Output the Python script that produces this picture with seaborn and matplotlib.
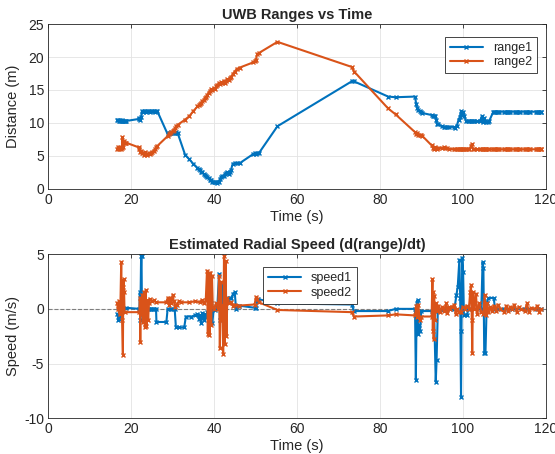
import numpy as np
import pandas as pd
import matplotlib
matplotlib.use("Agg")
import matplotlib.pyplot as plt
import seaborn as sns

# Ranges (time in s, distance in m)
t_range = [16.6, 16.8, 17.0, 17.2, 17.4, 17.6, 17.8, 17.9, 18.0, 18.2, 18.4, 18.6, 18.8,
           21.8, 22.0, 22.2, 22.4, 22.6, 22.8, 23.0, 23.3, 23.6, 23.9, 24.2, 24.5, 24.8, 25.1, 25.4, 25.7, 26.0, 26.3,
           28.8, 29.1, 29.4, 29.7, 30.0, 30.3, 30.6, 30.9, 31.2, 33.0, 34.0, 35.0,
           36.0, 36.3, 36.6, 36.9, 37.2, 37.5, 37.8, 38.1, 38.4, 38.7, 39.0, 39.3, 39.6, 39.9, 40.2, 40.5,
           40.8, 41.1, 41.4, 41.7, 42.0, 42.3, 42.6, 42.9, 43.2, 43.5, 43.8, 44.1, 44.5, 45.0, 45.5, 46.2,
           49.5, 49.8, 50.1, 50.4, 50.8, 55.3, 73.2, 73.8, 82.0, 83.8,
           88.5, 88.8, 89.0, 89.3, 89.6, 90.0, 90.3, 92.5, 92.8, 93.1, 93.4, 93.6, 93.8, 94.1,
           95.0, 95.4, 95.8, 96.2, 96.6, 97.8, 98.2, 98.6, 99.0, 99.3, 99.6, 99.8, 100.1, 100.4,
           100.8, 101.2, 101.6, 102.0, 102.2, 102.4, 102.8, 103.4, 104.2, 104.6, 104.8, 105.1, 105.4,
           105.7, 106.0, 106.4, 107.4, 107.6, 107.9, 108.2, 108.5, 108.8, 110.0, 110.3, 110.6, 110.9,
           111.2, 111.5, 112.6, 112.9, 113.2, 113.5, 113.8, 115.0, 115.3, 115.6, 115.9, 116.2,
           117.6, 117.9, 118.2, 118.5, 118.8, 119.0]
range1 = [10.5, 10.4, 10.3, 10.4, 10.3, 10.3, 10.4, 10.3, 10.3, 10.3, 10.3, 10.3, 10.3,
          10.6, 10.8, 10.5, 10.9, 11.8, 11.7, 11.8, 11.8, 11.7, 11.8, 11.8, 11.7, 11.8, 11.8, 11.8, 11.7, 11.8, 11.8,
          8.3, 8.5, 8.4, 8.6, 8.5, 8.4, 8.5, 8.6, 8.5, 5.2, 4.5, 3.8,
          3.2, 3.0, 2.8, 2.6, 2.5, 2.3, 2.1, 2.0, 1.8, 1.6, 1.4, 1.3, 1.1, 1.0, 1.0, 1.1,
          0.9, 1.0, 1.5, 1.8, 1.9, 2.0, 2.2, 2.4, 2.5, 2.3, 2.6, 2.9, 3.8, 3.9, 3.9, 3.9,
          5.3, 5.4, 5.3, 5.4, 5.4, 9.5, 16.3, 16.3, 14.0, 13.9,
          14.0, 12.8, 12.3, 12.0, 11.8, 11.6, 11.5, 11.2, 11.1, 11.0, 11.1, 10.4, 9.8, 9.8,
          9.5, 9.4, 9.4, 9.4, 9.4, 9.4, 9.3, 9.6, 10.5, 10.9, 11.8, 11.2, 11.6, 11.0,
          10.3, 10.3, 10.3, 10.3, 10.3, 10.3, 10.3, 10.3, 10.3, 11.0, 10.2, 10.8, 10.3,
          10.2, 10.2, 10.3, 11.7, 11.7, 11.7, 11.7, 11.7, 11.7, 11.7, 11.7, 11.7, 11.7,
          11.7, 11.7, 11.7, 11.7, 11.7, 11.7, 11.7, 11.7, 11.7, 11.7, 11.7, 11.7,
          11.7, 11.7, 11.7, 11.7, 11.7, 11.7]
range2 = [6.1, 6.3, 6.0, 6.2, 6.3, 6.1, 6.2, 7.8, 6.4, 7.2, 7.0, 7.0, 7.0,
          6.3, 6.0, 5.6, 5.8, 5.4, 5.5, 5.2, 5.6, 5.3, 5.1, 5.4, 5.3, 5.5, 5.6, 5.8, 6.0, 6.3, 6.5,
          8.0, 8.3, 8.5, 8.6, 8.8, 9.0, 9.2, 9.5, 9.7, 10.5, 11.0, 11.8,
          12.5, 12.7, 12.9, 13.1, 13.3, 13.5, 13.8, 14.0, 14.3, 14.6, 14.9, 15.1, 15.0, 15.3, 15.2, 15.6,
          15.8, 16.0, 15.9, 16.2, 16.1, 16.3, 16.0, 16.4, 16.6, 16.5, 16.8, 17.0, 17.4, 17.8, 18.2, 18.4,
          19.2, 19.4, 19.6, 20.4, 20.6, 22.3, 18.5, 17.8, 12.2, 11.3,
          8.6, 8.3, 8.4, 8.2, 8.1, 8.1, 8.0, 6.6, 6.2, 6.0, 6.3, 6.2, 6.1, 6.2,
          6.2, 6.3, 6.2, 6.2, 6.1, 6.0, 6.0, 6.0, 6.0, 6.1, 6.0, 6.0, 6.0, 6.0,
          6.0, 6.0, 6.0, 6.5, 6.8, 6.1, 6.0, 6.0, 6.0, 6.0, 6.0, 6.0, 6.0,
          6.0, 6.0, 6.0, 6.0, 6.0, 6.0, 6.0, 6.0, 6.0, 6.0, 6.0, 6.0, 6.0,
          6.0, 6.0, 6.0, 6.0, 6.0, 6.0, 6.0, 6.0, 6.0, 6.0, 6.0, 6.0,
          6.0, 6.0, 6.0, 6.0, 6.0, 6.0]

# Speed 1 (m/s)
t_speed1 = [16.7, 16.9, 17.1, 17.3, 17.5, 18.8, 22.0, 22.1, 22.2, 22.4, 22.5, 22.6, 22.8, 23.0,
            23.3, 23.6, 24.0, 24.4, 24.8, 25.2, 25.6, 26.0, 26.1, 28.5, 28.8, 29.5, 30.0, 30.5,
            30.8, 31.5, 32.8, 33.2, 34.5, 35.5, 36.0, 36.3, 36.6, 36.9, 37.2, 37.5, 37.8, 38.1,
            38.4, 38.7, 39.0, 39.3, 39.6, 39.9, 40.3, 40.8, 41.2, 41.4, 41.7, 42.0, 42.3, 42.6,
            43.0, 43.4, 43.8, 44.2, 44.6, 45.0, 45.3, 45.6, 46.0, 49.8, 50.2, 50.5, 55.3, 73.2,
            73.8, 82.0, 83.8, 88.5, 88.7, 88.9, 89.1, 89.3, 89.5, 89.7, 90.0, 92.5, 93.1, 93.5,
            93.7, 94.0, 95.0, 96.0, 97.0, 98.0, 98.5, 98.8, 99.2, 99.4, 99.6, 99.7, 99.9, 100.1,
            100.3, 101.0, 101.4, 104.5, 104.8, 105.0, 105.2, 105.5, 105.8, 106.2, 107.5, 107.8,
            108.5, 110.0, 112.0, 115.0, 118.0, 119.0]
speed1 = [-0.5, -1.0, 0.3, -0.9, 0.1, 0.1, 0.0, 1.5, -1.0, 4.8, 4.8, 0.0, -0.5, 0.0,
          0.1, -0.3, 0.0, 0.0, 0.0, 0.0, 0.0, 0.0, -1.2, -1.2, 0.0, 0.0, 0.0, 0.0,
          -1.7, -1.7, -1.7, -0.7, -0.7, -0.6, -0.5, -0.9, -0.6, -1.3, -0.4, -1.0, -0.5, -0.7,
          -0.3, 0.0, -0.4, 0.5, -1.3, 0.0, -0.1, 0.2, 3.2, -1.0, 0.5, 2.3, -1.8, 0.5,
          1.0, 0.8, 1.0, 1.0, 1.4, 1.5, 0.0, 0.3, 0.3, 0.1, 0.1, 0.9, 0.5, 0.4,
          -0.2, -0.2, 0.0, 0.0, -6.5, 0.5, 0.8, -2.3, -1.5, -2.0, -0.2, -0.2, -0.2, -6.7,
          -4.7, -0.1, -0.1, 0.0, 0.0, 0.0, 1.3, 2.0, 4.5, 1.0, -8.1, -2.0, 4.7, 3.4,
          -0.6, -0.6, 0.0, 0.0, 4.3, 3.7, -4.0, -4.0, 0.5, 1.0, 1.0, 0.0,
          0.0, 0.0, 0.0, 0.0, 0.0, 0.0]

# Speed 2 (m/s)
t_speed2 = [16.6, 16.8, 17.0, 17.2, 17.4, 17.6, 17.8, 18.0, 18.1, 18.2, 18.3, 18.4, 22.0, 22.1,
            22.2, 22.3, 22.5, 22.7, 22.9, 23.1, 23.3, 23.5, 23.7, 23.9, 24.1, 24.3, 24.6, 25.0,
            25.5, 26.0, 28.5, 28.8, 29.1, 29.4, 29.7, 30.0, 30.3, 30.6, 31.0, 31.5, 32.0, 34.0,
            35.5, 36.5, 37.0, 37.5, 38.0, 38.3, 38.5, 38.7, 38.9, 39.1, 39.3, 39.5, 39.7, 40.0,
            40.5, 41.0, 41.2, 41.4, 41.6, 41.8, 42.0, 42.2, 42.4, 42.6, 42.8, 43.0, 43.2, 43.5,
            44.0, 44.5, 45.0, 46.0, 49.8, 50.1, 50.4, 50.8, 55.3, 73.2, 73.8, 82.0, 83.8, 88.5,
            88.8, 89.0, 89.3, 89.6, 90.0, 92.5, 92.7, 92.8, 92.9, 93.0, 93.1, 93.3, 93.5, 93.7,
            94.0, 94.5, 95.0, 95.5, 96.0, 96.3, 96.6, 97.0, 97.5, 98.0, 98.3, 98.6, 99.0, 99.5,
            100.0, 100.5, 101.0, 101.5, 101.8, 102.0, 102.2, 102.3, 102.5, 102.8, 103.2, 103.5,
            104.0, 104.5, 105.0, 105.3, 105.6, 105.9, 106.2, 106.6, 107.0, 107.5, 108.0, 108.5,
            109.0, 110.0, 110.5, 111.0, 111.5, 112.0, 112.5, 113.0, 113.5, 114.0, 115.0, 115.5,
            116.0, 116.5, 117.5, 118.0, 118.5, 119.0]
speed2 = [0.5, 0.0, 0.7, -0.5, 0.3, 4.3, -1.0, -4.2, 2.0, 2.7, 1.5, -0.3, -0.3, 1.0,
          -3.0, 0.5, -0.5, 1.3, -1.2, 1.5, -1.7, 1.7, -1.6, 0.8, -1.0, 0.5, 0.9, 0.7,
          0.8, 0.6, 0.6, 1.0, 0.4, 1.0, 0.5, 1.3, 0.7, 0.2, 0.4, 0.7, 0.6, 0.6,
          0.7, 0.6, 0.8, 0.5, 0.8, 3.5, -2.3, 3.3, -2.4, 3.3, -1.5, 3.0, 0.2, 0.0,
          0.5, 0.0, 3.0, -3.6, 2.5, -1.0, 0.3, -4.1, 4.8, -3.2, 4.4, -2.5, 1.0, 0.5,
          0.6, 0.3, 0.4, 0.3, 0.4, 1.1, 0.9, 0.6, -0.1, -0.3, -0.7, -0.6, -0.5, -0.6,
          0.3, -0.7, 0.4, -1.0, -0.7, -0.7, 2.7, -2.0, 1.5, -2.8, 1.2, -1.0, 0.5, -0.2,
          0.3, -0.3, 0.2, -0.2, 0.5, -0.4, 0.2, 0.0, 0.2, 0.4, -0.5, 0.0, -0.3, -0.3,
          0.2, 0.0, 0.3, 0.0, 1.5, 2.2, -1.0, -4.0, 1.5, 0.0, 1.4, -0.5,
          0.5, -0.3, -0.5, 1.3, -0.6, 0.5, -0.3, 0.2, -0.2, 0.3, -0.2, 0.4,
          0.0, -0.3, 0.3, -0.2, 0.2, 0.0, 0.4, -0.3, 0.2, 0.0, -0.2, 0.5,
          -0.3, 0.1, 0.0, 0.3, -0.3, 0.0]

BLUE = "#0072BD"
ORANGE = "#D95319"

sns.set_style("whitegrid")
plt.rcParams["font.family"] = ["Liberation Sans", "DejaVu Sans"]
plt.rcParams.update({
    "axes.edgecolor": "#262626",
    "axes.linewidth": 0.6,
    "axes.unicode_minus": False,
    "grid.color": "#e3e3e3",
    "grid.linewidth": 0.6,
    "xtick.direction": "in",
    "ytick.direction": "in",
    "xtick.color": "#262626",
    "ytick.color": "#262626",
})

fig = plt.figure(figsize=(5.55, 4.54), dpi=100)
ax1 = fig.add_axes([0.087, 0.584, 0.896, 0.363])
ax2 = fig.add_axes([0.087, 0.079, 0.896, 0.361])

line_kw = dict(marker="x", markersize=3.5, markeredgewidth=1.0, linewidth=1.5,
               estimator=None, sort=False)

sns.lineplot(x=t_range, y=range1, ax=ax1, color=BLUE, label="range1",
             markeredgecolor=BLUE, **line_kw)
sns.lineplot(x=t_range, y=range2, ax=ax1, color=ORANGE, label="range2",
             markeredgecolor=ORANGE, **line_kw)

sns.lineplot(x=t_speed1, y=speed1, ax=ax2, color=BLUE, label="speed1",
             markeredgecolor=BLUE, **line_kw)
sns.lineplot(x=t_speed2, y=speed2, ax=ax2, color=ORANGE, label="speed2",
             markeredgecolor=ORANGE, **line_kw)
ax2.axhline(0, color="#7f7f7f", linestyle="--", linewidth=0.8, zorder=1)

ax1.set_xlim(0, 120)
ax1.set_ylim(0, 25)
ax1.set_yticks([0, 5, 10, 15, 20, 25])
ax2.set_xlim(0, 120)
ax2.set_ylim(-10, 5)
ax2.set_yticks([-10, -5, 0, 5])

for ax in (ax1, ax2):
    ax.set_xticks([0, 20, 40, 60, 80, 100, 120])
    ax.tick_params(labelsize=10, length=3, width=0.6, top=True, right=True, pad=3)
    for s in ax.spines.values():
        s.set_visible(True)
        s.set_color("#262626")
    ax.set_xlabel("Time (s)", fontsize=10.5, labelpad=2)

ax1.set_ylabel("Distance (m)", fontsize=10.5, labelpad=6)
ax2.set_ylabel("Speed (m/s)", fontsize=10.5, labelpad=3)
ax1.set_title("UWB Ranges vs Time", fontsize=10.5, fontweight="bold", pad=4)
ax2.set_title("Estimated Radial Speed (d(range)/dt)", fontsize=10.5, fontweight="bold", pad=4)

leg_kw = dict(fontsize=9, frameon=True, fancybox=False, edgecolor="#262626",
              framealpha=1, borderpad=0.4, handlelength=2.6, labelspacing=0.2)
leg1 = ax1.legend(loc="upper right", bbox_to_anchor=(0.995, 0.96), **leg_kw)
leg2 = ax2.legend(loc="upper left", bbox_to_anchor=(0.42, 0.96), **leg_kw)
for leg in (leg1, leg2):
    leg.get_frame().set_linewidth(0.6)

fig.savefig("out.png", dpi=100)
